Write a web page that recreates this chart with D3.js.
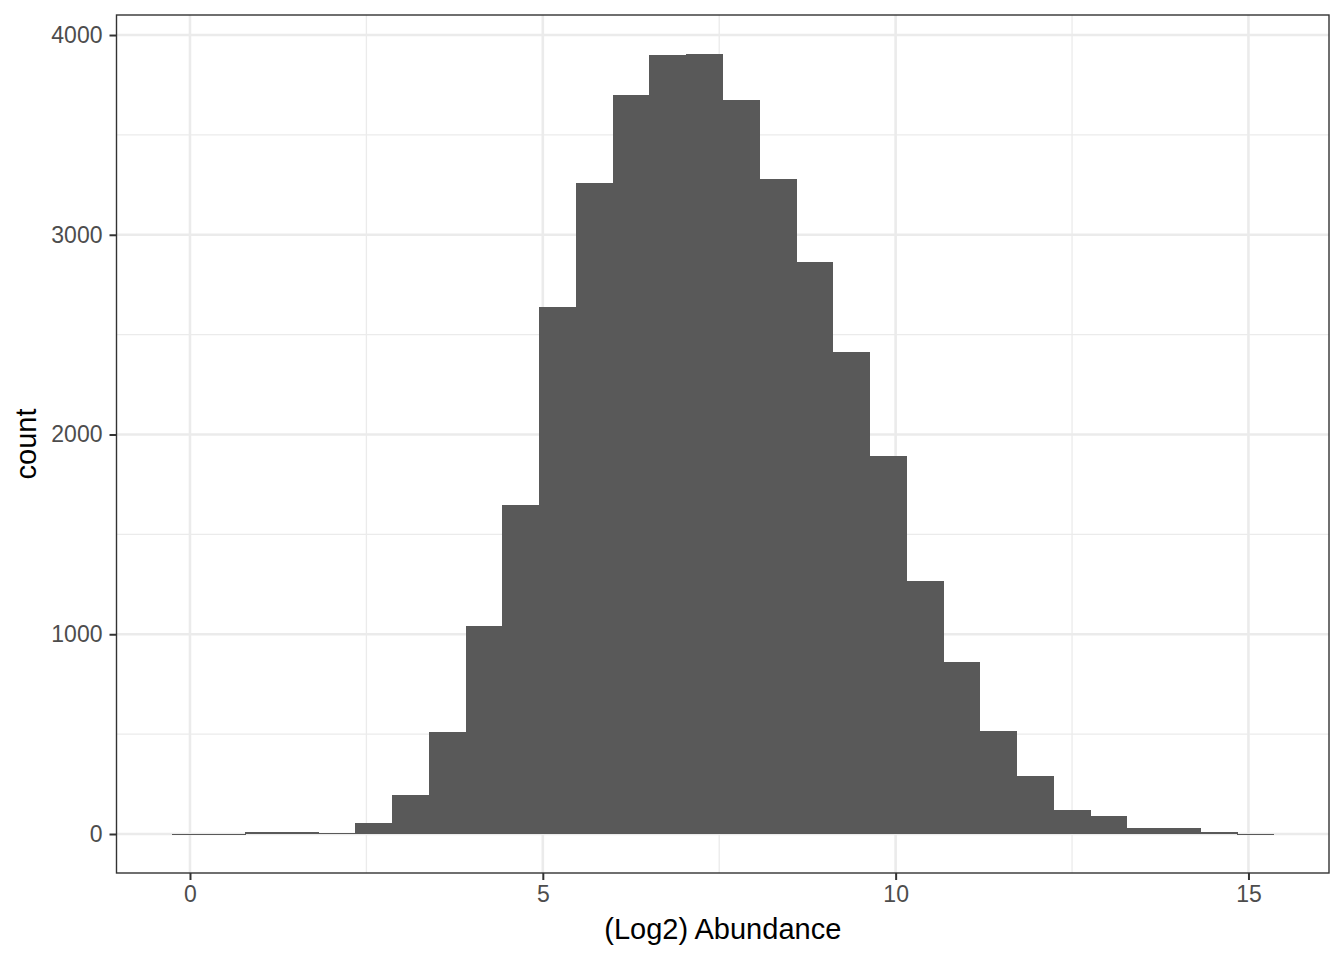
<!DOCTYPE html>
<html>
<head>
<meta charset="utf-8">
<script src="https://cdn.jsdelivr.net/npm/d3@7"></script>
<style>
  html, body { margin: 0; padding: 0; background: #fff; }
  svg { display: block; font-family: "Liberation Sans", Arial, sans-serif; }
</style>
</head>
<body>
<svg id="chart" width="1344" height="960"></svg>
<script>
// Histogram of log2 abundance, 30 bins (bin centres run from binMin to binMax)
const binMin = 0;
const binMax = 15.1;
const nBins = 30;
const counts = [
  2, 2, 12, 12, 6, 57, 195, 510, 1040, 1645,
  2640, 3260, 3700, 3900, 3905, 3675, 3280, 2865, 2415, 1890,
  1265, 860, 518, 288, 118, 88, 28, 28, 12, 2
];
const xTicks = [0, 5, 10, 15];
const yTicks = [0, 1000, 2000, 3000, 4000];
const xTitle = "(Log2) Abundance";
const yTitle = "count";

const width = 1344;
const height = 960;
const panel = { left: 116.5, right: 1329, top: 15, bottom: 873 };

const binWidth = (binMax - binMin) / (nBins - 1);
const bins = counts.map((c, i) => ({
  x0: binMin + (i - 0.5) * binWidth,
  x1: binMin + (i + 0.5) * binWidth,
  count: c,
}));

// ggplot-style 5% expansion
const xLo = bins[0].x0, xHi = bins[bins.length - 1].x1;
const xPad = (xHi - xLo) * 0.05;
const yHi = d3.max(counts);
const yPad = yHi * 0.05;

const x = d3.scaleLinear()
  .domain([xLo - xPad, xHi + xPad])
  .range([panel.left, panel.right]);

const y = d3.scaleLinear()
  .domain([-yPad, yHi + yPad])
  .range([panel.bottom, panel.top]);

const svg = d3.select("#chart");

svg.append("rect")
  .attr("width", width).attr("height", height)
  .attr("fill", "#fff");

// minor grid
const xMinor = [2.5, 7.5, 12.5];
const yMinor = [500, 1500, 2500, 3500];
const grid = svg.append("g");
grid.selectAll("line.xminor")
  .data(xMinor)
  .join("line")
  .attr("x1", (d) => x(d)).attr("x2", (d) => x(d))
  .attr("y1", panel.top).attr("y2", panel.bottom)
  .attr("stroke", "#EBEBEB").attr("stroke-width", 1.3);
grid.selectAll("line.yminor")
  .data(yMinor)
  .join("line")
  .attr("x1", panel.left).attr("x2", panel.right)
  .attr("y1", (d) => y(d)).attr("y2", (d) => y(d))
  .attr("stroke", "#EBEBEB").attr("stroke-width", 1.3);

// major grid
grid.selectAll("line.xmajor")
  .data(xTicks)
  .join("line")
  .attr("class", "xmajor")
  .attr("x1", (d) => x(d)).attr("x2", (d) => x(d))
  .attr("y1", panel.top).attr("y2", panel.bottom)
  .attr("stroke", "#EBEBEB").attr("stroke-width", 2.6);
grid.selectAll("line.ymajor")
  .data(yTicks)
  .join("line")
  .attr("class", "ymajor")
  .attr("x1", panel.left).attr("x2", panel.right)
  .attr("y1", (d) => y(d)).attr("y2", (d) => y(d))
  .attr("stroke", "#EBEBEB").attr("stroke-width", 2.6);

// bars (crisp edges so neighbouring bins don't show a seam)
svg.append("g")
  .attr("shape-rendering", "crispEdges")
  .selectAll("rect")
  .data(bins)
  .join("rect")
  .attr("x", (d) => x(d.x0))
  .attr("width", (d) => x(d.x1) - x(d.x0) + 0.5)
  .attr("y", (d) => y(d.count))
  .attr("height", (d) => Math.max(1, y(0) - y(d.count)))
  .attr("fill", "#595959");

// panel border
svg.append("rect")
  .attr("x", panel.left).attr("y", panel.top)
  .attr("width", panel.right - panel.left)
  .attr("height", panel.bottom - panel.top)
  .attr("fill", "none")
  .attr("stroke", "#333333")
  .attr("stroke-width", 1.4);

// X axis
const xAxis = svg.append("g")
  .attr("transform", `translate(0,${panel.bottom})`)
  .call(d3.axisBottom(x).tickValues(xTicks).tickSize(7).tickPadding(6).tickFormat(d3.format("d")));
xAxis.select(".domain").remove();
xAxis.selectAll(".tick line").attr("stroke", "#333333").attr("stroke-width", 2);
xAxis.selectAll(".tick text")
  .attr("fill", "#4D4D4D")
  .style("font-size", "23px")
  .style("font-family", "'Liberation Sans', Arial, sans-serif");

// Y axis
const yAxis = svg.append("g")
  .attr("transform", `translate(${panel.left},0)`)
  .call(d3.axisLeft(y).tickValues(yTicks).tickSize(7).tickPadding(7).tickFormat(d3.format("d")));
yAxis.select(".domain").remove();
yAxis.selectAll(".tick line").attr("stroke", "#333333").attr("stroke-width", 2);
yAxis.selectAll(".tick text")
  .attr("fill", "#4D4D4D")
  .style("font-size", "23px")
  .style("font-family", "'Liberation Sans', Arial, sans-serif");

// titles
svg.append("text")
  .attr("x", (panel.left + panel.right) / 2)
  .attr("y", 939)
  .attr("text-anchor", "middle")
  .attr("fill", "#000")
  .style("font-size", "29px")
  .text(xTitle);

svg.append("text")
  .attr("transform", `translate(36,${(panel.top + panel.bottom) / 2}) rotate(-90)`)
  .attr("text-anchor", "middle")
  .attr("fill", "#000")
  .style("font-size", "29px")
  .text(yTitle);
</script>
</body>
</html>
